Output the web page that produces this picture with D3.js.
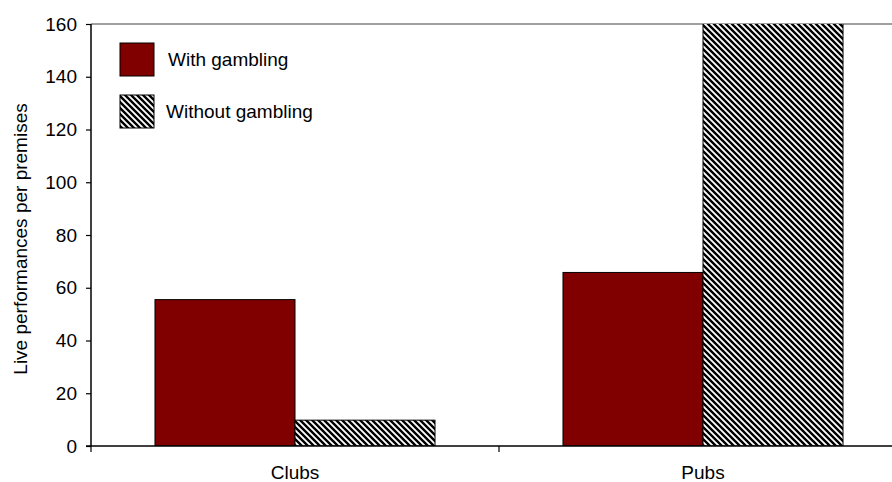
<!DOCTYPE html>
<html><head><meta charset="utf-8">
<script src="https://cdn.jsdelivr.net/npm/d3@7"></script>
<style>body{margin:0;background:#fff;} text{font-family:"Liberation Sans",Arial,sans-serif;}</style>
</head><body><svg id="c" width="892" height="482"></svg>
<script>
const categories = ["Clubs", "Pubs"];
const seriesNames = ["With gambling", "Without gambling"];
const withGambling = [55.5, 65.8];
const withoutGambling = [9.8, 175];
const yTicks = [0, 20, 40, 60, 80, 100, 120, 140, 160];

const svg = d3.select("#c");
const m = {left: 91, top: 24, bottom: 446, right: 907};
const x = d3.scaleBand().domain(categories).range([m.left, m.right]);
const xs = d3.scaleBand().domain(seriesNames).range([0, x.bandwidth()]).paddingOuter(0.457).paddingInner(0);
const y = d3.scaleLinear().domain([0, 160]).range([m.bottom, m.top]);
const FS = 19;

const defs = svg.append("defs");
const pat = defs.append("pattern").attr("id", "hatch").attr("patternUnits", "userSpaceOnUse")
  .attr("width", 6).attr("height", 6);
pat.append("rect").attr("width", 6).attr("height", 6).attr("fill", "#fff");
pat.append("path").attr("d", "M0,0L6,6M-3,3L3,9M3,-3L9,3M-6,0L0,6M6,0L12,6")
  .attr("stroke", "#000").attr("stroke-width", 2.4);
defs.append("clipPath").attr("id", "plot").append("rect")
  .attr("x", m.left).attr("y", m.top).attr("width", m.right - m.left).attr("height", m.bottom - m.top);

// top border line
svg.append("line").attr("x1", m.left).attr("x2", 892).attr("y1", y(160)).attr("y2", y(160))
  .attr("stroke", "#808080").attr("stroke-width", 1.5);

const fills = ["#800000", "url(#hatch)"];
const data = [withGambling, withoutGambling];
const g = svg.append("g").attr("clip-path", "url(#plot)");
seriesNames.forEach((s, si) => {
  g.selectAll(null).data(categories).enter().append("rect")
    .attr("x", c => x(c) + xs(s))
    .attr("width", xs.bandwidth())
    .attr("y", (c, i) => y(data[si][i]))
    .attr("height", (c, i) => y(0) - y(data[si][i]))
    .attr("fill", fills[si]).attr("stroke", "#000").attr("stroke-width", 1);
});

// y axis
const ya = svg.append("g").attr("transform", `translate(${m.left},0)`)
  .call(d3.axisLeft(y).tickValues(yTicks).tickSize(5).tickPadding(9));
ya.select(".domain").attr("stroke", "#000").attr("stroke-width", 1.5).attr("d", `M-0,${m.top}V${m.bottom}`);
ya.selectAll(".tick line").attr("stroke", "#000").attr("stroke-width", 1.2);
ya.selectAll("text").attr("font-size", FS).attr("fill", "#000").attr("font-family", "Liberation Sans, Arial, sans-serif");

// x axis
svg.append("line").attr("x1", m.left - 5).attr("x2", 892).attr("y1", m.bottom).attr("y2", m.bottom)
  .attr("stroke", "#000").attr("stroke-width", 1.5);
const bounds = [x(categories[0]), x(categories[1])];
svg.selectAll(null).data(bounds).enter().append("line")
  .attr("x1", d => d).attr("x2", d => d).attr("y1", m.bottom).attr("y2", m.bottom + 6)
  .attr("stroke", "#000").attr("stroke-width", 1.2);
svg.selectAll(null).data(categories).enter().append("text")
  .attr("x", c => x(c) + x.bandwidth() / 2).attr("y", 479)
  .attr("text-anchor", "middle").attr("font-size", FS).attr("fill", "#000").text(c => c);

// y label
svg.append("text").attr("transform", "translate(27,239) rotate(-90)")
  .attr("text-anchor", "middle").attr("font-size", FS).attr("fill", "#000")
  .text("Live performances per premises");

// legend
const leg = svg.append("g");
seriesNames.forEach((s, i) => {
  leg.append("rect").attr("x", 120).attr("y", 43 + i * 52).attr("width", 34).attr("height", 33)
    .attr("fill", fills[i]).attr("stroke", "#000").attr("stroke-width", 1);
  leg.append("text").attr("x", i === 0 ? 168 : 166).attr("y", 66 + i * 52)
    .attr("font-size", FS).attr("fill", "#000").text(s);
});
</script></body></html>
